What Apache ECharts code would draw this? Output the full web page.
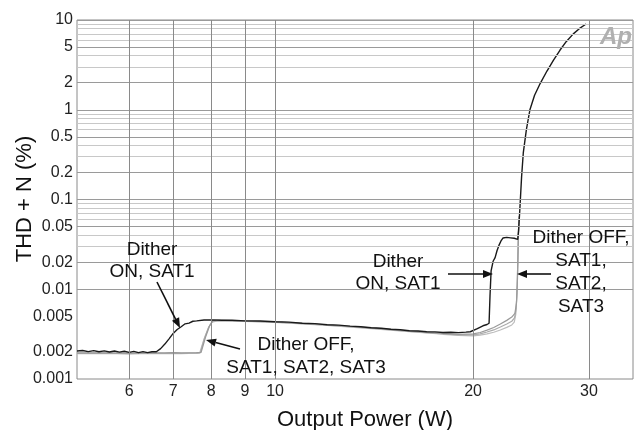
<!DOCTYPE html>
<html><head><meta charset="utf-8">
<script src="https://cdn.jsdelivr.net/npm/echarts@6/dist/echarts.min.js"></script>
<style>html,body{margin:0;padding:0;background:#fff}#c{width:637px;height:430px}</style>
</head><body><div id="c"></div>
<script>
// ---- data ----
const xTickLabels = [6, 7, 8, 9, 10, 20, 30];
const yTickLabels = [0.001, 0.002, 0.005, 0.01, 0.02, 0.05, 0.1, 0.2, 0.5, 1, 2, 5, 10];
const yGridMajor = [0.001, 0.002, 0.005, 0.01, 0.02, 0.05, 0.1, 0.2, 0.5, 1, 2, 5, 10];
const yGridMinor = [0.003, 0.004, 0.006, 0.007, 0.008, 0.009, 0.03, 0.04, 0.06, 0.07, 0.08, 0.09,
  0.3, 0.4, 0.6, 0.7, 0.8, 0.9, 3, 4, 6, 7, 8, 9];
const xGrid = [6, 7, 8, 9, 10, 20, 30];

const ditherOnX = [5.00,5.10,5.20,5.30,5.40,5.50,5.60,5.70,5.80,5.90,6.00,6.10,6.20,6.30,6.40,6.50,6.60,
  6.70,6.80,6.90,7.00,7.10,7.20,7.30,7.40,7.50,7.60,7.80,8.00,8.30,8.60,9.00,9.50,10.0,10.5,11.0,11.5,12.0,
  12.5,13.0,13.5,14.0,14.5,15.0,15.5,16.0,16.5,17.0,17.5,18.0,18.5,19.0,19.5,19.8,20.3,20.7,21.0,21.15,21.22,21.3,21.45,21.6,21.75,21.9,22.05,22.2,
  22.35,22.5,22.65,22.8,22.95,23.1,23.25,23.38,23.45,23.55,23.7,23.84,24.1,24.4,24.8,25.3,25.9,26.5,27.1,
  27.7,28.4,29.0,29.7];
const ditherOnY = [0.00205,0.00208,0.00202,0.00207,0.00201,0.00206,0.00200,0.00205,0.00199,0.00204,0.00198,
  0.00203,0.00197,0.00202,0.00197,0.00201,0.00201,0.00218,0.00245,0.00280,0.00322,0.00356,0.00382,0.00412,
  0.00420,0.00440,0.00444,0.00454,0.00456,0.00452,0.00452,0.00444,0.00443,0.00434,0.00430,0.00418,0.00414,
  0.00402,0.00398,0.00388,0.00382,0.00373,0.00368,0.00358,0.00354,0.00345,0.00343,0.00336,0.00335,0.00330,
  0.00332,0.00329,0.00333,0.00336,0.00365,0.00392,0.00405,0.00418,
  0.0085,0.0160,0.0205,0.0225,0.0270,0.0310,0.0345,0.0372,0.0360,0.0378,0.0362,0.0374,0.0358,0.0370,0.0352,
  0.0360,0.045,0.076,0.18,0.33,0.60,1.00,1.45,1.97,2.70,3.58,4.60,5.73,7.00,8.00,9.02];

const ditherOffSat1X = [5.0,5.5,6.0,6.5,6.8,7.0,7.2,7.4,7.6,7.72,7.85,7.95,8.05,8.2,8.6,9.0,10.0,11.0,12.0,14.0,
  16.0,18.0,19.0,20.0,20.5,21.0,21.5,22.0,22.5,22.9,23.15,23.28,23.36,23.42,23.48];
const ditherOffSat1Y = [0.00195,0.00196,0.00194,0.00196,0.00195,0.00197,0.00195,0.00196,0.00197,0.00198,0.0030,
  0.0039,0.0045,0.00452,0.00448,0.00443,0.00434,0.00417,0.00402,0.00372,0.00343,0.00322,0.00315,0.00318,0.00330,
  0.00350,0.00375,0.00410,0.00450,0.00490,0.00540,0.0070,0.013,0.030,0.065];
const ditherOffSat2X = [5.0,5.5,6.0,6.5,6.8,7.0,7.2,7.4,7.6,7.70,7.82,7.93,8.03,8.2,8.6,9.0,10.0,11.0,12.0,14.0,
  16.0,18.0,19.0,20.0,20.5,21.0,21.5,22.0,22.5,22.9,23.12,23.25,23.34,23.40,23.47];
const ditherOffSat2Y = [0.00193,0.00194,0.00192,0.00194,0.00193,0.00195,0.00193,0.00194,0.00195,0.00196,0.0029,
  0.0038,0.0044,0.00448,0.00445,0.00440,0.00430,0.00414,0.00398,0.00368,0.00339,0.00318,0.00310,0.00310,0.00318,
  0.00334,0.00352,0.00380,0.00410,0.00440,0.00480,0.0060,0.011,0.026,0.060];
const ditherOffSat3X = [5.0,5.5,6.0,6.5,6.8,7.0,7.2,7.4,7.6,7.68,7.80,7.92,8.02,8.2,8.6,9.0,10.0,11.0,12.0,14.0,
  16.0,18.0,19.0,20.0,20.5,21.0,21.5,22.0,22.5,22.9,23.1,23.22,23.32,23.39,23.46];
const ditherOffSat3Y = [0.00192,0.00193,0.00191,0.00193,0.00192,0.00193,0.00192,0.00193,0.00193,0.00194,0.0028,
  0.0037,0.0043,0.00446,0.00443,0.00438,0.00428,0.00411,0.00395,0.00365,0.00336,0.00315,0.00306,0.00303,0.00308,
  0.00318,0.00332,0.00352,0.00376,0.00400,0.00430,0.0052,0.009,0.022,0.055];

// ---- chart ----
const zip = (xs, ys) => xs.map((x, i) => [x, ys[i]]);
const FONT = 'Liberation Sans, Arial, sans-serif';
const chart = echarts.init(document.getElementById('c'), null, {renderer: 'canvas'});

const gridLines = [];
yGridMinor.forEach(v => gridLines.push({yAxis: v, lineStyle: {color: '#c8c8c8', width: 1, type: 'solid'}}));
yGridMajor.forEach(v => gridLines.push({yAxis: v, lineStyle: {color: '#9a9a9a', width: 1, type: 'solid'}}));
xGrid.forEach(v => gridLines.push({xAxis: v, lineStyle: {color: '#8a8a8a', width: 1, type: 'solid'}}));

function lineSeries(name, data, color, width, z) {
  return {name, type: 'line', data, showSymbol: false, symbol: 'none', z,
    lineStyle: {color, width}, animation: false, silent: true};
}

function arrow(x1, y1, x2, y2) {
  const ang = Math.atan2(y2 - y1, x2 - x1);
  const L = 10, W = 4;
  const bx = x2 - L * Math.cos(ang), by = y2 - L * Math.sin(ang);
  const px = -Math.sin(ang) * W, py = Math.cos(ang) * W;
  return [
    {type: 'line', shape: {x1, y1, x2: bx, y2: by}, style: {stroke: '#111', lineWidth: 1.6}, z: 10},
    {type: 'polygon', shape: {points: [[x2, y2], [bx + px, by + py], [bx - px, by - py]]}, style: {fill: '#111'}, z: 10}
  ];
}
function txt(x, y, text, lh) {
  return {type: 'text', x, y, z: 10,
    style: {text, font: '19px ' + FONT, fill: '#111', align: 'center', verticalAlign: 'middle', lineHeight: lh || 22}};
}

chart.setOption({
  animation: false,
  backgroundColor: '#fff',
  grid: {left: 77, right: 4, top: 20, bottom: 51, show: true, borderColor: '#8a8a8a', borderWidth: 1, backgroundColor: 'transparent'},
  xAxis: {type: 'log', logBase: 10, min: 5, max: 35,
    axisLine: {show: false}, axisTick: {show: false}, splitLine: {show: false}, minorSplitLine: {show: false},
    axisLabel: {customValues: xTickLabels, formatter: v => String(+v.toPrecision(6)), fontSize: 16, fontFamily: FONT, color: '#222', margin: 5}},
  yAxis: {type: 'log', logBase: 10, min: 0.001, max: 10,
    axisLine: {show: false}, axisTick: {show: false}, splitLine: {show: false}, minorSplitLine: {show: false},
    axisLabel: {customValues: yTickLabels, formatter: v => String(+v.toPrecision(6)), fontSize: 16, fontFamily: FONT, color: '#222', margin: 4}},
  series: [
    {type: 'line', data: [[5, 0.001]], showSymbol: false, symbol: 'none', lineStyle: {opacity: 0}, z: 1, silent: true,
      markLine: {silent: true, symbol: ['none', 'none'], label: {show: false}, animation: false, data: gridLines}},
    lineSeries('Dither OFF, SAT3', zip(ditherOffSat3X, ditherOffSat3Y), '#bdbdbd', 1.2, 3),
    lineSeries('Dither OFF, SAT2', zip(ditherOffSat2X, ditherOffSat2Y), '#ababab', 1.2, 3),
    lineSeries('Dither OFF, SAT1', zip(ditherOffSat1X, ditherOffSat1Y), '#9a9a9a', 1.2, 3),
    lineSeries('Dither ON, SAT1', zip(ditherOnX, ditherOnY), '#1a1a1a', 1.4, 4)
  ],
  graphic: [
    {type: 'text', x: 25, y: 199, rotation: Math.PI / 2, z: 10,
      style: {text: 'THD + N (%)', font: '22px ' + FONT, fill: '#111', align: 'center', verticalAlign: 'middle'}},
    {type: 'text', x: 365, y: 420, z: 10,
      style: {text: 'Output Power (W)', font: '22px ' + FONT, fill: '#111', align: 'center', verticalAlign: 'middle'}},
    {type: 'text', x: 616, y: 37, z: 10,
      style: {text: 'Ap', font: 'italic bold 24px ' + FONT, fill: '#b0b0b0', align: 'center', verticalAlign: 'middle'}},
    txt(152, 261, 'Dither\nON, SAT1'),
    txt(306, 356, 'Dither OFF,\nSAT1, SAT2, SAT3', 23),
    txt(398, 273, 'Dither\nON, SAT1'),
    txt(581, 272, 'Dither OFF,\nSAT1,\nSAT2,\nSAT3', 23),
    ...arrow(157, 282, 180, 328),
    ...arrow(240, 349, 206, 340),
    ...arrow(448, 274, 493, 274),
    ...arrow(551, 274, 517, 274)
  ]
});
</script></body></html>
